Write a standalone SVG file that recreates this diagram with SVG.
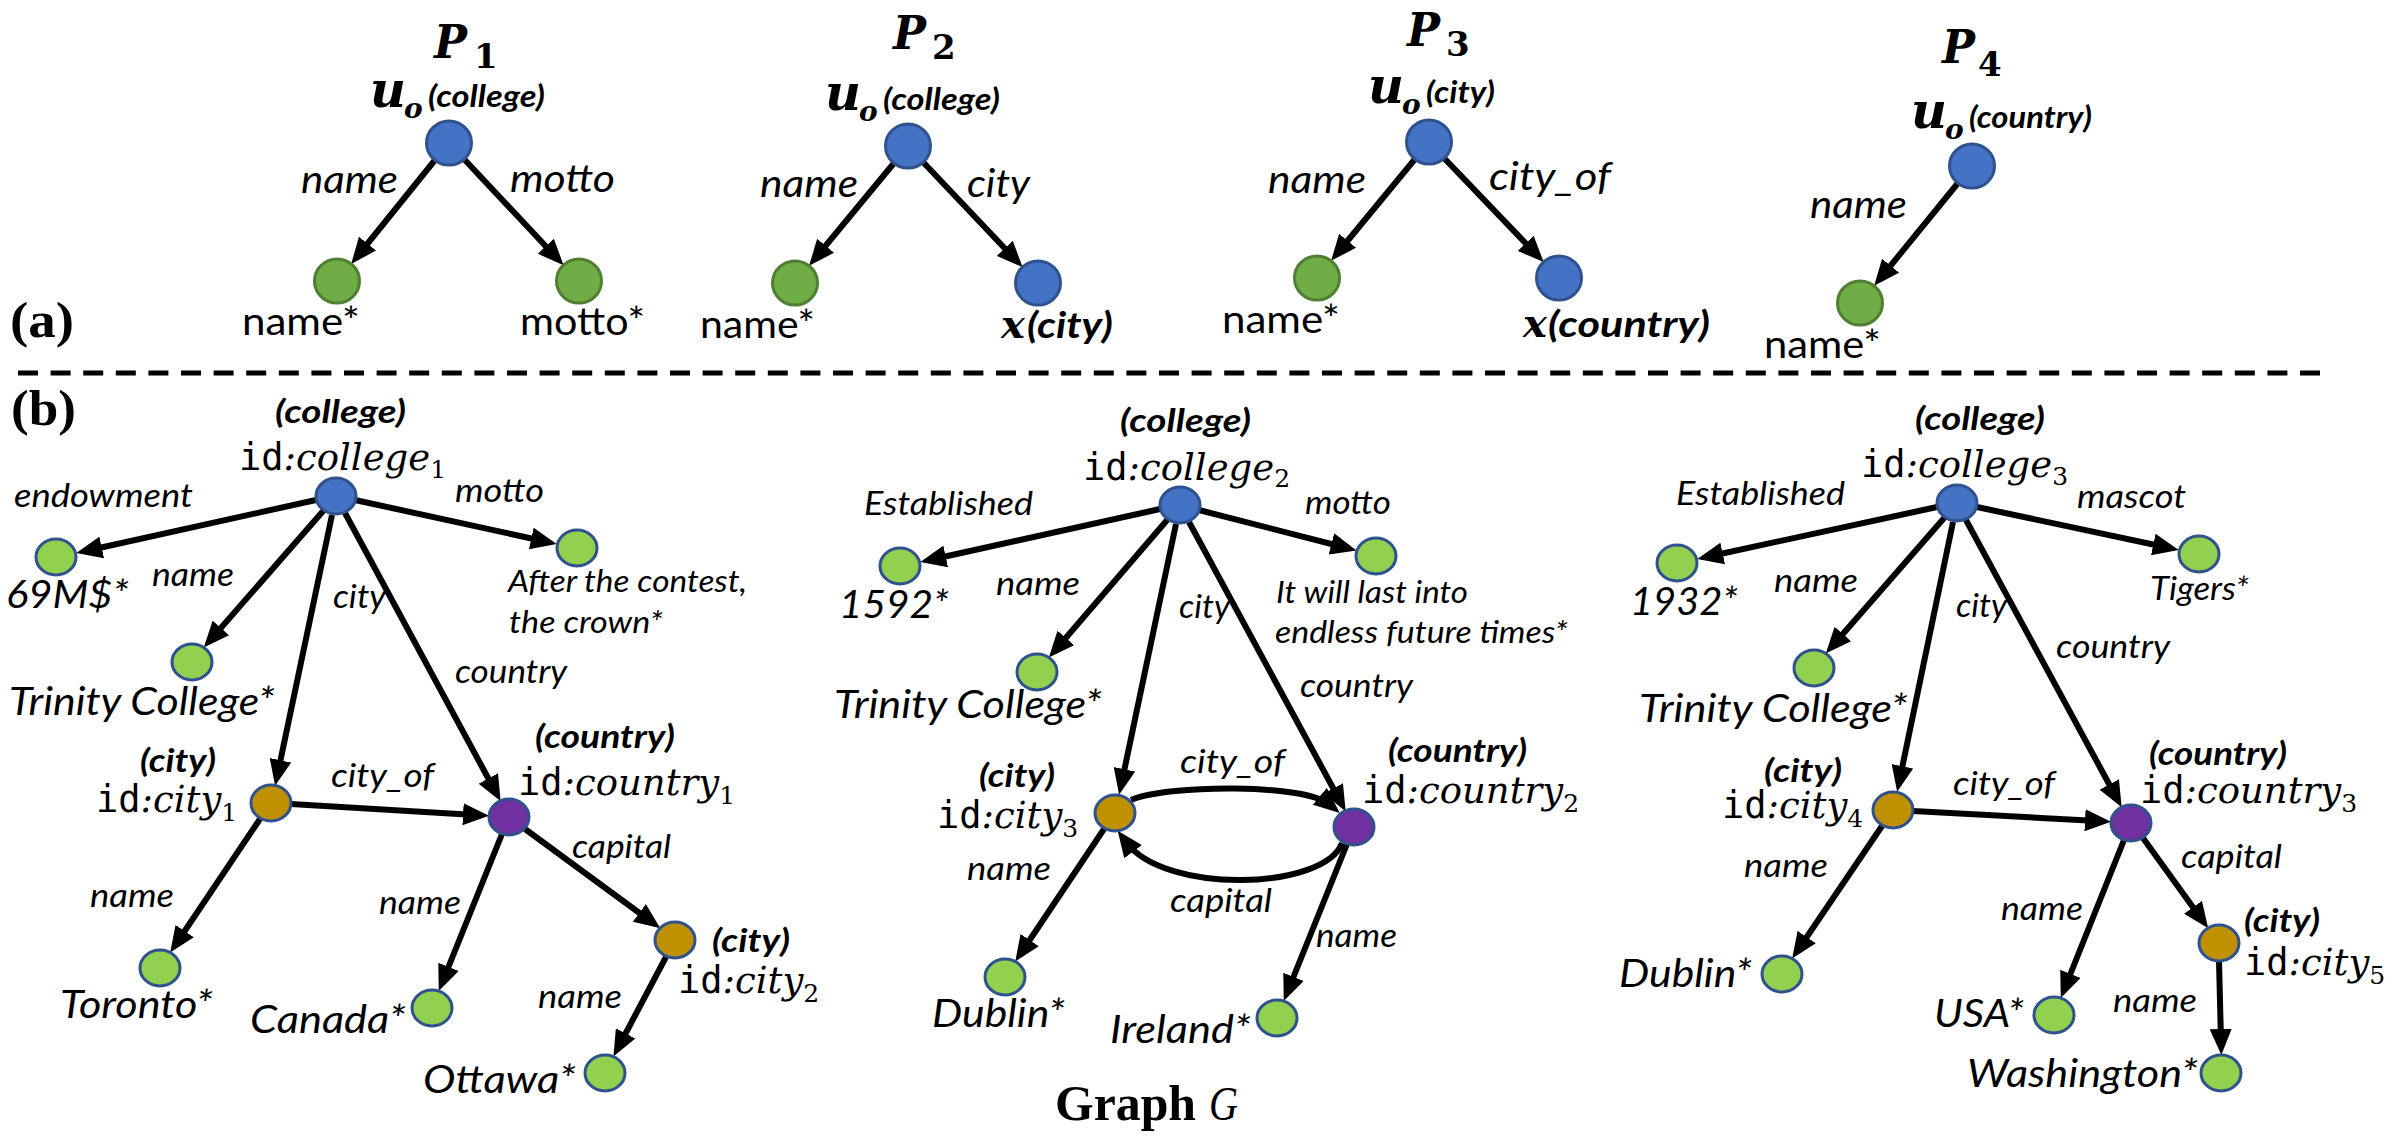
<svg xmlns="http://www.w3.org/2000/svg" width="2392" height="1138" viewBox="0 0 2392 1138">
<defs>
<marker id="ah" markerUnits="userSpaceOnUse" viewBox="0 0 26 22" markerWidth="26" markerHeight="22" refX="12" refY="11" orient="auto">
<path d="M0,0 L26,11 L0,22 z" fill="#000"/>
</marker>
<style>
.e{stroke:#000;stroke-width:6;fill:none;marker-end:url(#ah)}
.nb{fill:#4472C4;stroke:#2F528F;stroke-width:3}
.na{fill:#70AD47;stroke:#507E32;stroke-width:3}
.ng{fill:#92D050;stroke:#2F528F;stroke-width:3}
.nc{fill:#BF9000;stroke:#2F528F;stroke-width:3}
.np{fill:#7030A0;stroke:#2F528F;stroke-width:3}
text{fill:#000}
.li{font-family:Lato,"Liberation Sans",sans-serif;font-style:italic}
.lr{font-family:Lato,"Liberation Sans",sans-serif}
.lbi{font-family:Lato,"Liberation Sans",sans-serif;font-style:italic;font-weight:bold}
.mono{font-family:"DejaVu Sans Mono","Liberation Mono",monospace}
.mi{font-family:"DejaVu Serif","Liberation Serif",serif;font-style:italic}
.sub{font-family:"DejaVu Serif","Liberation Serif",serif}
.mbi{font-family:"DejaVu Serif","Liberation Serif",serif;font-style:italic;font-weight:bold}
.pb{font-family:"DejaVu Serif","Liberation Serif",serif;font-weight:bold}
.sb{font-family:"Liberation Serif",serif;font-weight:bold}
.a1{font-size:38px}
.a2{font-size:33px}
.a3{font-size:38px}
.a4{font-size:31px}
.t{font-size:33px}
.id{font-size:37px}
.s{font-size:25px}
</style>
</defs>

<!-- section labels and divider -->
<text class="sb" x="10" y="337" font-size="50" textLength="64" lengthAdjust="spacingAndGlyphs">(a)</text>
<text class="sb" x="11" y="425" font-size="50" textLength="65" lengthAdjust="spacingAndGlyphs">(b)</text>
<line x1="18" y1="373" x2="2330" y2="373" stroke="#000" stroke-width="5" stroke-dasharray="20 12.6"/>
<text class="sb" x="1055" y="1120" font-size="50" textLength="141" lengthAdjust="spacingAndGlyphs">Graph</text>
<text x="1209" y="1120" font-family="Liberation Serif, serif" font-style="italic" font-size="48" textLength="29" lengthAdjust="spacingAndGlyphs">G</text>

<!-- pattern titles -->
<g id="title-P1"><text class="mbi" x="434" y="58" font-size="46" textLength="33" lengthAdjust="spacingAndGlyphs">P</text><text class="pb" x="474" y="68" font-size="34">1</text></g>
<g id="title-P2"><text class="mbi" x="893" y="49" font-size="46" textLength="33" lengthAdjust="spacingAndGlyphs">P</text><text class="pb" x="932" y="59" font-size="34">2</text></g>
<g id="title-P3"><text class="mbi" x="1407" y="46" font-size="46" textLength="33" lengthAdjust="spacingAndGlyphs">P</text><text class="pb" x="1446" y="56" font-size="34">3</text></g>
<g id="title-P4"><text class="mbi" x="1942" y="63" font-size="46" textLength="33" lengthAdjust="spacingAndGlyphs">P</text><text class="pb" x="1978" y="76" font-size="34">4</text></g>

<!-- connectors -->
<g id="connectors">
<path class="e" d="M435,160 L360,253"/>
<path class="e" d="M464,159 L554,255"/>
<path class="e" d="M894,163 L818,255"/>
<path class="e" d="M923,162 L1013,257"/>
<path class="e" d="M1415,159 L1340,250"/>
<path class="e" d="M1444,158 L1534,252"/>
<path class="e" d="M1958,183 L1883,275"/>

<path class="e" d="M316,500 L90,550"/>
<path class="e" d="M324,510 L213,637"/>
<path class="e" d="M355,500 L543,541"/>
<path class="e" d="M332,515 L278,772"/>
<path class="e" d="M345,513 L494,789"/>
<path class="e" d="M291,804 L475,815"/>
<path class="e" d="M525,829 L649,920"/>
<path class="e" d="M260,819 L178,941"/>
<path class="e" d="M502,834 L444,978"/>
<path class="e" d="M666,957 L620,1044"/>

<path class="e" d="M1160,509 L934,559"/>
<path class="e" d="M1168,519 L1058,647"/>
<path class="e" d="M1199,510 L1343,547"/>
<path class="e" d="M1176,524 L1122,781"/>
<path class="e" d="M1189,522 L1339,799"/>
<path class="e" d="M1131,800 C1170,784 1305,784 1329,804"/>
<path class="e" d="M1342,843 C1325,890 1165,895 1126,842"/>
<path class="e" d="M1104,829 L1023,950"/>
<path class="e" d="M1347,844 L1289,988"/>

<path class="e" d="M1937,507 L1711,556"/>
<path class="e" d="M1945,517 L1835,643"/>
<path class="e" d="M1977,507 L2165,547"/>
<path class="e" d="M1953,522 L1900,778"/>
<path class="e" d="M1966,520 L2115,795"/>
<path class="e" d="M1913,811 L2097,821"/>
<path class="e" d="M2143,838 L2200,917"/>
<path class="e" d="M1882,826 L1800,947"/>
<path class="e" d="M2124,840 L2066,985"/>
<path class="e" d="M2219,961 L2221,1041"/>

<!-- edge labels (a) -->
<text class="li a1" x="301" y="193" textLength="97" lengthAdjust="spacingAndGlyphs">name</text>
<text class="li a1" x="510" y="192" textLength="105" lengthAdjust="spacingAndGlyphs">motto</text>
<text class="li a1" x="760" y="197" textLength="98" lengthAdjust="spacingAndGlyphs">name</text>
<text class="li a1" x="967" y="197" textLength="63" lengthAdjust="spacingAndGlyphs">city</text>
<text class="li a1" x="1268" y="193" textLength="98" lengthAdjust="spacingAndGlyphs">name</text>
<text class="li a1" x="1489" y="190" textLength="122" lengthAdjust="spacingAndGlyphs">city_of</text>
<text class="li a1" x="1810" y="218" textLength="97" lengthAdjust="spacingAndGlyphs">name</text>

<!-- edge labels (b) graph 1 -->
<text class="li a2" x="14" y="507" textLength="179" lengthAdjust="spacingAndGlyphs">endowment</text>
<text class="li a2" x="152" y="586" textLength="82" lengthAdjust="spacingAndGlyphs">name</text>
<text class="li a2" x="455" y="502" textLength="89" lengthAdjust="spacingAndGlyphs">motto</text>
<text class="li a2" x="333" y="608" textLength="53" lengthAdjust="spacingAndGlyphs">city</text>
<text class="li a2" x="455" y="683" textLength="112" lengthAdjust="spacingAndGlyphs">country</text>
<text class="li a2" x="331" y="787" textLength="103" lengthAdjust="spacingAndGlyphs">city_of</text>
<text class="li a2" x="572" y="858" textLength="99" lengthAdjust="spacingAndGlyphs">capital</text>
<text class="li a2" x="90" y="907" textLength="84" lengthAdjust="spacingAndGlyphs">name</text>
<text class="li a2" x="379" y="914" textLength="82" lengthAdjust="spacingAndGlyphs">name</text>
<text class="li a2" x="538" y="1008" textLength="84" lengthAdjust="spacingAndGlyphs">name</text>

<!-- edge labels (b) graph 2 -->
<text class="li a2" x="864" y="515" textLength="169" lengthAdjust="spacingAndGlyphs">Established</text>
<text class="li a2" x="996" y="595" textLength="84" lengthAdjust="spacingAndGlyphs">name</text>
<text class="li a2" x="1305" y="514" textLength="86" lengthAdjust="spacingAndGlyphs">motto</text>
<text class="li a2" x="1179" y="618" textLength="51" lengthAdjust="spacingAndGlyphs">city</text>
<text class="li a2" x="1300" y="697" textLength="113" lengthAdjust="spacingAndGlyphs">country</text>
<text class="li a2" x="1180" y="773" textLength="105" lengthAdjust="spacingAndGlyphs">city_of</text>
<text class="li a2" x="1170" y="912" textLength="102" lengthAdjust="spacingAndGlyphs">capital</text>
<text class="li a2" x="967" y="880" textLength="84" lengthAdjust="spacingAndGlyphs">name</text>
<text class="li a2" x="1316" y="947" textLength="81" lengthAdjust="spacingAndGlyphs">name</text>

<!-- edge labels (b) graph 3 -->
<text class="li a2" x="1676" y="505" textLength="169" lengthAdjust="spacingAndGlyphs">Established</text>
<text class="li a2" x="1774" y="592" textLength="84" lengthAdjust="spacingAndGlyphs">name</text>
<text class="li a2" x="2077" y="508" textLength="109" lengthAdjust="spacingAndGlyphs">mascot</text>
<text class="li a2" x="1956" y="617" textLength="51" lengthAdjust="spacingAndGlyphs">city</text>
<text class="li a2" x="2056" y="658" textLength="114" lengthAdjust="spacingAndGlyphs">country</text>
<text class="li a2" x="1953" y="795" textLength="102" lengthAdjust="spacingAndGlyphs">city_of</text>
<text class="li a2" x="2181" y="868" textLength="101" lengthAdjust="spacingAndGlyphs">capital</text>
<text class="li a2" x="1744" y="877" textLength="84" lengthAdjust="spacingAndGlyphs">name</text>
<text class="li a2" x="2001" y="920" textLength="82" lengthAdjust="spacingAndGlyphs">name</text>
<text class="li a2" x="2113" y="1012" textLength="84" lengthAdjust="spacingAndGlyphs">name</text>
</g>

<!-- (a) pattern nodes -->
<g id="p1-root"><ellipse class="nb" cx="449" cy="143" rx="22.5" ry="22"/>
<text class="mbi" x="370" y="107" font-size="50" textLength="36" lengthAdjust="spacingAndGlyphs">u</text><text class="mbi" x="404" y="118" font-size="28">o</text>
<text class="lbi" x="428" y="107" font-size="31" textLength="117" lengthAdjust="spacingAndGlyphs">(college)</text></g>
<g id="p1-name"><ellipse class="na" cx="337" cy="281" rx="22.5" ry="22"/>
<text class="lr a1" x="242" y="335" textLength="118" lengthAdjust="spacingAndGlyphs">name*</text></g>
<g id="p1-motto"><ellipse class="na" cx="579" cy="281" rx="22.5" ry="22"/>
<text class="lr a1" x="520" y="335" textLength="125" lengthAdjust="spacingAndGlyphs">motto*</text></g>

<g id="p2-root"><ellipse class="nb" cx="908" cy="146" rx="22.5" ry="22"/>
<text class="mbi" x="825" y="110" font-size="50" textLength="36" lengthAdjust="spacingAndGlyphs">u</text><text class="mbi" x="859" y="121" font-size="28">o</text>
<text class="lbi" x="883" y="110" font-size="31" textLength="117" lengthAdjust="spacingAndGlyphs">(college)</text></g>
<g id="p2-name"><ellipse class="na" cx="795" cy="283" rx="22.5" ry="22"/>
<text class="lr a1" x="700" y="338" textLength="115" lengthAdjust="spacingAndGlyphs">name*</text></g>
<g id="p2-x"><ellipse class="nb" cx="1038" cy="283" rx="22.5" ry="22"/>
<text class="mbi" x="1001" y="338" font-size="40">x</text>
<text class="lbi" x="1027" y="338" font-size="37" textLength="86" lengthAdjust="spacingAndGlyphs">(city)</text></g>

<g id="p3-root"><ellipse class="nb" cx="1429" cy="142" rx="22.5" ry="22"/>
<text class="mbi" x="1368" y="103" font-size="50" textLength="36" lengthAdjust="spacingAndGlyphs">u</text><text class="mbi" x="1402" y="114" font-size="28">o</text>
<text class="lbi" x="1426" y="103" font-size="31" textLength="69" lengthAdjust="spacingAndGlyphs">(city)</text></g>
<g id="p3-name"><ellipse class="na" cx="1317" cy="278" rx="22.5" ry="22"/>
<text class="lr a1" x="1222" y="333" textLength="118" lengthAdjust="spacingAndGlyphs">name*</text></g>
<g id="p3-x"><ellipse class="nb" cx="1559" cy="278" rx="22.5" ry="22"/>
<text class="mbi" x="1523" y="337" font-size="40">x</text>
<text class="lbi" x="1548" y="337" font-size="37" textLength="162" lengthAdjust="spacingAndGlyphs">(country)</text></g>

<g id="p4-root"><ellipse class="nb" cx="1972" cy="166" rx="22.5" ry="22"/>
<text class="mbi" x="1911" y="128" font-size="50" textLength="36" lengthAdjust="spacingAndGlyphs">u</text><text class="mbi" x="1945" y="139" font-size="28">o</text>
<text class="lbi" x="1969" y="128" font-size="31" textLength="123" lengthAdjust="spacingAndGlyphs">(country)</text></g>
<g id="p4-name"><ellipse class="na" cx="1860" cy="303" rx="22.5" ry="22"/>
<text class="lr a1" x="1764" y="358" textLength="117" lengthAdjust="spacingAndGlyphs">name*</text></g>

<!-- (b) graph 1 nodes -->
<g id="college1"><ellipse class="nb" cx="336" cy="496" rx="20" ry="18"/>
<text class="lbi t" x="275" y="423" textLength="131" lengthAdjust="spacingAndGlyphs">(college)</text>
<text x="239" y="470"><tspan class="mono id">id</tspan><tspan class="mi id">:college</tspan><tspan class="sub s" dy="8">1</tspan></text></g>
<g id="g1-endowment"><ellipse class="ng" cx="56" cy="557" rx="20" ry="18"/>
<text class="li a3" x="6" y="608" textLength="123" lengthAdjust="spacingAndGlyphs">69M$*</text></g>
<g id="g1-name"><ellipse class="ng" cx="192" cy="662" rx="20" ry="18"/>
<text class="li a3" x="9" y="715" textLength="266" lengthAdjust="spacingAndGlyphs">Trinity College*</text></g>
<g id="g1-motto"><ellipse class="ng" cx="577" cy="548" rx="20" ry="18"/>
<text class="li a4" x="508" y="592" textLength="239" lengthAdjust="spacingAndGlyphs">After the contest,</text>
<text class="li a4" x="509" y="633" textLength="154" lengthAdjust="spacingAndGlyphs">the crown*</text></g>
<g id="city1"><ellipse class="nc" cx="271" cy="803" rx="20" ry="18"/>
<text class="lbi t" x="140" y="772" textLength="76" lengthAdjust="spacingAndGlyphs">(city)</text>
<text x="96" y="812"><tspan class="mono id">id</tspan><tspan class="mi id">:city</tspan><tspan class="sub s" dy="9">1</tspan></text></g>
<g id="country1"><ellipse class="np" cx="509" cy="817" rx="20" ry="18"/>
<text class="lbi t" x="535" y="748" textLength="140" lengthAdjust="spacingAndGlyphs">(country)</text>
<text x="518" y="795"><tspan class="mono id">id</tspan><tspan class="mi id">:country</tspan><tspan class="sub s" dy="9">1</tspan></text></g>
<g id="city2"><ellipse class="nc" cx="675" cy="940" rx="20" ry="18"/>
<text class="lbi t" x="712" y="952" textLength="78" lengthAdjust="spacingAndGlyphs">(city)</text>
<text x="678" y="993"><tspan class="mono id">id</tspan><tspan class="mi id">:city</tspan><tspan class="sub s" dy="9">2</tspan></text></g>
<g id="g1-toronto"><ellipse class="ng" cx="160" cy="968" rx="20" ry="18"/>
<text class="li a3" x="60" y="1018" textLength="153" lengthAdjust="spacingAndGlyphs">Toronto*</text></g>
<g id="g1-canada"><ellipse class="ng" cx="432" cy="1008" rx="20" ry="18"/>
<text class="li a3" x="250" y="1033" textLength="156" lengthAdjust="spacingAndGlyphs">Canada*</text></g>
<g id="g1-ottawa"><ellipse class="ng" cx="605" cy="1073" rx="20" ry="18"/>
<text class="li a3" x="423" y="1093" textLength="153" lengthAdjust="spacingAndGlyphs">Ottawa*</text></g>

<!-- (b) graph 2 nodes -->
<g id="college2"><ellipse class="nb" cx="1180" cy="505" rx="20" ry="18"/>
<text class="lbi t" x="1120" y="432" textLength="131" lengthAdjust="spacingAndGlyphs">(college)</text>
<text x="1083" y="480"><tspan class="mono id">id</tspan><tspan class="mi id">:college</tspan><tspan class="sub s" dy="7">2</tspan></text></g>
<g id="g2-established"><ellipse class="ng" cx="900" cy="566" rx="20" ry="18"/>
<text class="li a3" x="839" y="618" textLength="110" lengthAdjust="spacingAndGlyphs">1592*</text></g>
<g id="g2-name"><ellipse class="ng" cx="1037" cy="672" rx="20" ry="18"/>
<text class="li a3" x="834" y="718" textLength="268" lengthAdjust="spacingAndGlyphs">Trinity College*</text></g>
<g id="g2-motto"><ellipse class="ng" cx="1376" cy="556" rx="20" ry="18"/>
<text class="li a4" x="1276" y="603" textLength="192" lengthAdjust="spacingAndGlyphs">It will last into</text>
<text class="li a4" x="1275" y="643" textLength="293" lengthAdjust="spacingAndGlyphs">endless future times*</text></g>
<g id="city3"><ellipse class="nc" cx="1115" cy="813" rx="20" ry="18"/>
<text class="lbi t" x="979" y="787" textLength="76" lengthAdjust="spacingAndGlyphs">(city)</text>
<text x="937" y="828"><tspan class="mono id">id</tspan><tspan class="mi id">:city</tspan><tspan class="sub s" dy="9">3</tspan></text></g>
<g id="country2"><ellipse class="np" cx="1354" cy="827" rx="20" ry="18"/>
<text class="lbi t" x="1388" y="762" textLength="139" lengthAdjust="spacingAndGlyphs">(country)</text>
<text x="1362" y="803"><tspan class="mono id">id</tspan><tspan class="mi id">:country</tspan><tspan class="sub s" dy="9">2</tspan></text></g>
<g id="g2-dublin"><ellipse class="ng" cx="1005" cy="977" rx="20" ry="18"/>
<text class="li a3" x="932" y="1027" textLength="133" lengthAdjust="spacingAndGlyphs">Dublin*</text></g>
<g id="g2-ireland"><ellipse class="ng" cx="1277" cy="1018" rx="20" ry="18"/>
<text class="li a3" x="1110" y="1043" textLength="141" lengthAdjust="spacingAndGlyphs">Ireland*</text></g>

<!-- (b) graph 3 nodes -->
<g id="college3"><ellipse class="nb" cx="1957" cy="503" rx="20" ry="18"/>
<text class="lbi t" x="1915" y="430" textLength="130" lengthAdjust="spacingAndGlyphs">(college)</text>
<text x="1861" y="477"><tspan class="mono id">id</tspan><tspan class="mi id">:college</tspan><tspan class="sub s" dy="8">3</tspan></text></g>
<g id="g3-established"><ellipse class="ng" cx="1677" cy="563" rx="20" ry="18"/>
<text class="li a3" x="1630" y="615" textLength="108" lengthAdjust="spacingAndGlyphs">1932*</text></g>
<g id="g3-name"><ellipse class="ng" cx="1814" cy="668" rx="20" ry="18"/>
<text class="li a3" x="1639" y="722" textLength="269" lengthAdjust="spacingAndGlyphs">Trinity College*</text></g>
<g id="g3-mascot"><ellipse class="ng" cx="2199" cy="554" rx="20" ry="18"/>
<text class="li" x="2150" y="600" font-size="32" textLength="99" lengthAdjust="spacingAndGlyphs">Tigers*</text></g>
<g id="city4"><ellipse class="nc" cx="1893" cy="810" rx="20" ry="18"/>
<text class="lbi t" x="1764" y="782" textLength="78" lengthAdjust="spacingAndGlyphs">(city)</text>
<text x="1722" y="818"><tspan class="mono id">id</tspan><tspan class="mi id">:city</tspan><tspan class="sub s" dy="9">4</tspan></text></g>
<g id="country3"><ellipse class="np" cx="2131" cy="823" rx="20" ry="18"/>
<text class="lbi t" x="2149" y="765" textLength="138" lengthAdjust="spacingAndGlyphs">(country)</text>
<text x="2140" y="803"><tspan class="mono id">id</tspan><tspan class="mi id">:country</tspan><tspan class="sub s" dy="9">3</tspan></text></g>
<g id="city5"><ellipse class="nc" cx="2219" cy="943" rx="20" ry="18"/>
<text class="lbi t" x="2244" y="932" textLength="76" lengthAdjust="spacingAndGlyphs">(city)</text>
<text x="2244" y="975"><tspan class="mono id">id</tspan><tspan class="mi id">:city</tspan><tspan class="sub s" dy="9">5</tspan></text></g>
<g id="g3-dublin"><ellipse class="ng" cx="1782" cy="974" rx="20" ry="18"/>
<text class="li a3" x="1619" y="987" textLength="133" lengthAdjust="spacingAndGlyphs">Dublin*</text></g>
<g id="g3-usa"><ellipse class="ng" cx="2054" cy="1015" rx="20" ry="18"/>
<text class="li a3" x="1934" y="1027" textLength="90" lengthAdjust="spacingAndGlyphs">USA*</text></g>
<g id="g3-washington"><ellipse class="ng" cx="2221" cy="1073" rx="20" ry="18"/>
<text class="li a3" x="1967" y="1087" textLength="231" lengthAdjust="spacingAndGlyphs">Washington*</text></g>
</svg>
